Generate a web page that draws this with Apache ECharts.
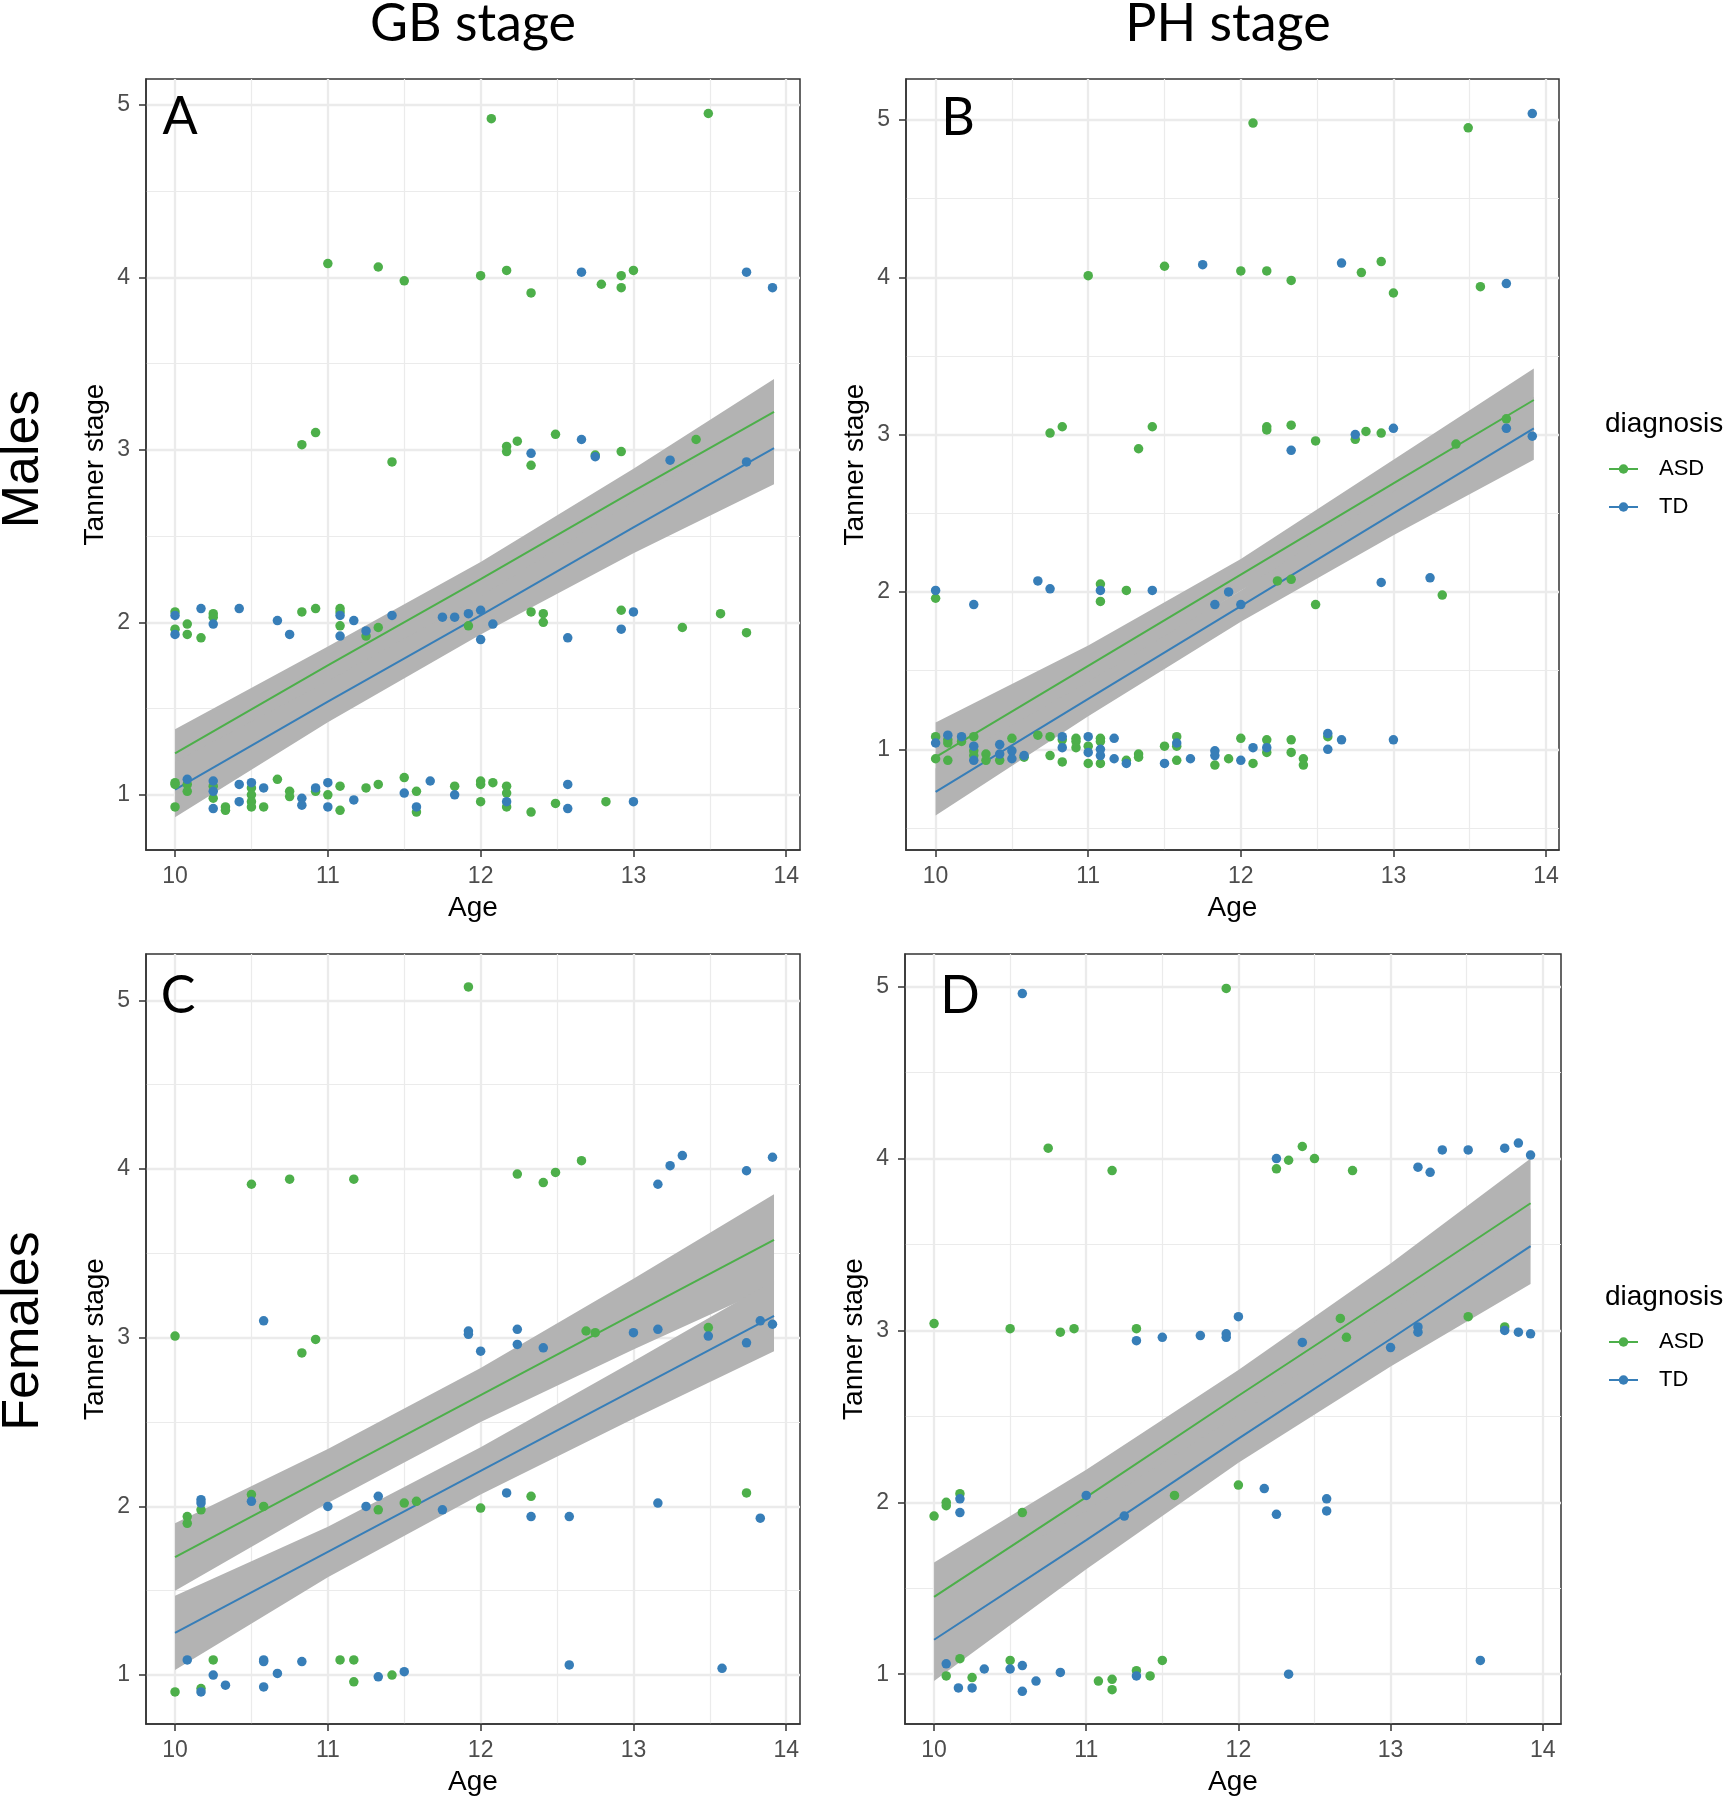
<!DOCTYPE html>
<html><head><meta charset="utf-8">
<script src="https://cdn.jsdelivr.net/npm/echarts@6/dist/echarts.min.js"></script>
<style>html,body{margin:0;padding:0;background:#fff}#chart{width:1733px;height:1800px}</style>
</head><body><div id="chart"></div>
<script>
// ---------- categories / labels ----------
const diagnoses = ['ASD', 'TD'];
const columnTitles = ['GB stage', 'PH stage'];
const rowTitles = ['Males', 'Females'];
const panelLetters = ['A', 'B', 'C', 'D'];
const xTicks = [10, 11, 12, 13, 14];
const xMinor = [10.5, 11.5, 12.5, 13.5];
const yTicks = [1, 2, 3, 4, 5];
const yMinor = [0.5, 1.5, 2.5, 3.5, 4.5];

// ---------- points [age, tanner stage] ----------
const gbMaleASD = [[10.00,2.06],[10.00,1.96],[10.08,1.99],[10.08,1.93],[10.17,1.91],[10.25,2.05],[10.25,2.03],[10.83,2.06],[10.92,2.08],[11.08,2.08],[11.08,2.06],[11.08,1.98],[11.25,1.92],[11.33,1.97],[11.92,1.98],[12.33,2.06],[12.41,2.05],[12.41,2.00],[12.92,2.07],[13.32,1.97],[13.57,2.05],[13.74,1.94],
  [12.07,4.92],[13.49,4.95],
  [11.00,4.08],[11.33,4.06],[11.50,3.98],[12.00,4.01],[12.17,4.04],[12.33,3.91],[12.79,3.96],[12.92,4.01],[12.92,3.94],[13.00,4.04],
  [10.83,3.03],[10.92,3.10],[11.42,2.93],[12.17,3.02],[12.17,2.99],[12.24,3.05],[12.33,2.91],[12.49,3.09],[12.75,2.97],[12.92,2.99],[13.41,3.06],
  [10.00,1.07],[10.00,1.06],[10.00,0.93],[10.08,1.06],[10.08,1.02],[10.25,1.05],[10.25,0.98],[10.33,0.93],[10.33,0.91],[10.50,1.04],[10.50,1.00],[10.50,0.96],[10.50,0.93],[10.58,0.93],[10.67,1.09],[10.75,1.02],[10.75,0.99],[10.92,1.02],[11.00,1.00],[11.08,1.05],[11.08,0.91],[11.25,1.04],[11.33,1.06],[11.50,1.10],[11.58,1.02],[11.58,0.90],[11.83,1.05],[12.00,1.08],[12.00,1.06],[12.00,0.96],[12.08,1.07],[12.17,1.05],[12.17,1.01],[12.17,0.93],[12.33,0.90],[12.49,0.95],[12.82,0.96]];
const gbMaleTD = [[10.00,2.04],[10.00,1.93],[10.17,2.08],[10.25,1.99],[10.42,2.08],[10.67,2.01],[10.75,1.93],[11.08,2.04],[11.08,1.92],[11.17,2.01],[11.25,1.95],[11.42,2.04],[11.75,2.03],[11.83,2.03],[11.92,2.05],[12.00,2.07],[12.00,1.90],[12.08,1.99],[12.57,1.91],[12.92,1.96],[13.00,2.06],
  [12.66,4.03],[13.74,4.03],[13.91,3.94],
  [12.33,2.98],[12.66,3.06],[12.75,2.96],[13.24,2.94],[13.74,2.93],
  [10.08,1.09],[10.25,1.08],[10.25,1.02],[10.25,0.92],[10.42,1.06],[10.42,0.96],[10.50,1.07],[10.58,1.04],[10.83,0.98],[10.83,0.94],[10.92,1.04],[11.00,1.07],[11.00,0.93],[11.17,0.97],[11.50,1.01],[11.58,0.93],[11.67,1.08],[11.83,1.00],[12.17,0.96],[12.57,1.06],[12.57,0.92],[13.00,0.96]];

const phMaleASD = [[12.08,4.98],[13.49,4.95],
  [11.50,4.07],[11.00,4.01],[12.00,4.04],[12.17,4.04],[12.33,3.98],[12.79,4.03],[12.92,4.10],[13.00,3.90],[13.57,3.94],
  [10.75,3.01],[10.83,3.05],[11.42,3.05],[11.33,2.91],[12.17,3.05],[12.17,3.03],[12.33,3.06],[12.49,2.96],[12.75,2.97],[12.82,3.02],[12.92,3.01],[13.41,2.94],[13.74,3.10],
  [10.00,1.96],[11.08,2.05],[11.08,1.94],[11.25,2.01],[12.24,2.07],[12.33,2.08],[12.49,1.92],[13.32,1.98],
  [10.00,1.08],[10.00,0.94],[10.08,1.06],[10.08,1.04],[10.08,0.93],[10.17,1.05],[10.25,1.08],[10.25,0.99],[10.25,0.96],[10.33,0.97],[10.33,0.93],[10.42,0.93],[10.50,1.07],[10.58,0.95],[10.67,1.09],[10.75,1.08],[10.75,0.96],[10.83,1.06],[10.83,0.92],[10.92,1.07],[10.92,1.05],[10.92,1.01],[11.00,1.02],[11.00,0.91],[11.08,1.07],[11.08,1.05],[11.08,0.91],[11.25,0.93],[11.33,0.97],[11.33,0.95],[11.50,1.02],[11.58,1.08],[11.58,1.02],[11.58,0.93],[11.83,0.90],[11.92,0.94],[12.00,1.07],[12.08,0.91],[12.17,1.06],[12.17,0.98],[12.33,1.06],[12.33,0.98],[12.41,0.94],[12.41,0.90],[12.57,1.08]];
const phMaleTD = [[13.91,5.04],
  [11.75,4.08],[12.66,4.09],[13.74,3.96],
  [12.33,2.90],[12.75,3.00],[13.00,3.04],[13.74,3.04],[13.91,2.99],
  [10.00,2.01],[10.25,1.92],[10.67,2.07],[10.75,2.02],[11.08,2.01],[11.42,2.01],[11.83,1.92],[11.92,2.00],[12.00,1.92],[12.92,2.06],[13.24,2.09],
  [10.00,1.04],[10.08,1.09],[10.17,1.08],[10.25,1.02],[10.25,0.93],[10.42,1.03],[10.42,0.97],[10.50,0.99],[10.50,0.94],[10.58,0.96],[10.83,1.08],[10.83,1.01],[11.00,1.08],[11.00,0.98],[11.08,1.00],[11.08,0.96],[11.17,1.07],[11.17,0.94],[11.25,0.91],[11.50,0.91],[11.58,1.04],[11.67,0.94],[11.83,0.99],[11.83,0.96],[12.00,0.93],[12.08,1.01],[12.17,1.01],[12.57,1.10],[12.57,1.00],[12.66,1.06],[13.00,1.06]];

const gbFemaleASD = [[11.92,5.08],
  [10.50,3.91],[10.75,3.94],[11.17,3.94],[12.24,3.97],[12.41,3.92],[12.49,3.98],[12.66,4.05],
  [10.00,3.01],[10.83,2.91],[10.92,2.99],[12.69,3.04],[12.75,3.03],[13.49,3.06],
  [10.17,1.98],[10.08,1.94],[10.08,1.90],[10.50,2.07],[10.58,2.00],[11.33,1.98],[11.50,2.02],[11.58,2.03],[12.00,1.99],[12.33,2.06],[13.74,2.08],
  [10.25,1.09],[10.17,0.92],[10.00,0.90],[11.08,1.09],[11.17,1.09],[11.17,0.96],[11.42,1.00]];
const gbFemaleTD = [[13.16,3.91],[13.24,4.02],[13.32,4.08],[13.74,3.99],[13.91,4.07],
  [10.58,3.10],[11.92,3.04],[11.92,3.02],[12.00,2.92],[12.24,3.05],[12.24,2.96],[12.41,2.94],[13.00,3.03],[13.16,3.05],[13.49,3.01],[13.74,2.97],[13.83,3.10],[13.91,3.08],
  [10.17,2.04],[10.17,2.02],[10.50,2.03],[11.00,2.00],[11.25,2.00],[11.33,2.06],[11.75,1.98],[12.17,2.08],[12.33,1.94],[12.58,1.94],[13.16,2.02],[13.83,1.93],
  [10.08,1.09],[10.25,1.00],[10.17,0.90],[10.33,0.94],[10.58,1.09],[10.58,1.08],[10.58,0.93],[10.67,1.01],[10.83,1.08],[11.33,0.99],[11.50,1.02],[12.58,1.06],[13.58,1.04]];

const phFemaleASD = [[11.92,4.99],
  [10.75,4.06],[11.17,3.93],[12.25,3.94],[12.33,3.99],[12.42,4.07],[12.50,4.00],[12.75,3.93],
  [10.00,3.04],[10.50,3.01],[10.83,2.99],[10.92,3.01],[11.33,3.01],[12.67,3.07],[12.71,2.96],[13.51,3.08],[13.75,3.02],
  [10.00,1.92],[10.08,2.00],[10.08,1.98],[10.17,2.05],[10.58,1.94],[11.58,2.04],[12.00,2.10],
  [10.08,0.99],[10.17,1.09],[10.25,0.98],[10.50,1.08],[11.08,0.96],[11.17,0.97],[11.17,0.91],[11.33,1.02],[11.42,0.99],[11.50,1.08]];
const phFemaleTD = [[10.58,4.96],
  [12.25,4.00],[13.18,3.95],[13.26,3.92],[13.34,4.05],[13.51,4.05],[13.75,4.06],[13.84,4.09],[13.92,4.02],
  [11.33,2.94],[11.50,2.96],[11.75,2.97],[11.92,2.98],[11.92,2.96],[12.00,3.08],[12.42,2.93],[13.00,2.90],[13.18,3.02],[13.18,2.99],[13.75,3.00],[13.84,2.99],[13.92,2.98],
  [10.17,2.02],[10.17,1.94],[11.00,2.04],[11.25,1.92],[12.17,2.08],[12.25,1.93],[12.58,2.02],[12.58,1.95],
  [10.08,1.06],[10.16,0.92],[10.25,0.92],[10.33,1.03],[10.50,1.03],[10.58,1.05],[10.58,0.90],[10.67,0.96],[10.83,1.01],[11.33,0.99],[12.33,1.00],[13.59,1.08]];

// ---------- linear fits with confidence bands ----------
const fitAges = [10, 11, 12, 13, 13.92];
const gbMaleASDFit = [1.24, 1.75, 2.25, 2.76, 3.22];
const gbMaleASDLo  = [1.10, 1.63, 2.13, 2.62, 3.03];
const gbMaleASDHi  = [1.38, 1.86, 2.35, 2.89, 3.41];
const gbMaleTDFit  = [1.03, 1.54, 2.04, 2.55, 3.01];
const gbMaleTDLo   = [0.87, 1.42, 1.93, 2.40, 2.80];
const gbMaleTDHi   = [1.19, 1.66, 2.15, 2.70, 3.22];

const phMaleASDFit = [0.95, 1.53, 2.11, 2.69, 3.22];
const phMaleASDLo  = [0.73, 1.40, 2.01, 2.54, 3.02];
const phMaleASDHi  = [1.17, 1.66, 2.21, 2.84, 3.42];
const phMaleTDFit  = [0.73, 1.32, 1.91, 2.50, 3.04];
const phMaleTDLo   = [0.58, 1.21, 1.81, 2.36, 2.84];
const phMaleTDHi   = [0.88, 1.43, 2.01, 2.64, 3.24];

const gbFemaleASDFit = [1.70, 2.18, 2.66, 3.14, 3.58];
const gbFemaleASDLo  = [1.50, 2.02, 2.50, 2.93, 3.31];
const gbFemaleASDHi  = [1.90, 2.34, 2.82, 3.35, 3.85];
const gbFemaleTDFit  = [1.25, 1.73, 2.21, 2.69, 3.13];
const gbFemaleTDLo   = [1.03, 1.58, 2.07, 2.52, 2.92];
const gbFemaleTDHi   = [1.47, 1.88, 2.35, 2.86, 3.34];

const phFemaleASDFit = [1.45, 2.03, 2.62, 3.20, 3.74];
const phFemaleASDLo  = [1.25, 1.87, 2.47, 3.01, 3.48];
const phFemaleASDHi  = [1.65, 2.19, 2.77, 3.39, 4.00];
const phFemaleTDFit  = [1.20, 1.78, 2.37, 2.95, 3.49];
const phFemaleTDLo   = [0.96, 1.61, 2.23, 2.79, 3.27];
const phFemaleTDHi   = [1.44, 1.95, 2.51, 3.11, 3.71];

// ---------- layout ----------
const FONT = '"Liberation Sans", Arial, Helvetica, sans-serif';
const TITLE_FONT = 'Lato, "Open Sans", sans-serif';
const GREEN = '#4DAF4A', BLUE = '#377EB8', RIBBON = '#b3b3b3';
const GRIDCOL = '#ebebeb';

const panels = [
  {grid:{left:146, top:79, width:654, height:771}, x:[9.81,14.09], y:[0.68,5.15],
   asd:gbMaleASD, td:gbMaleTD, af:gbMaleASDFit, al:gbMaleASDLo, ah:gbMaleASDHi, tf:gbMaleTDFit, tl:gbMaleTDLo, th:gbMaleTDHi, letter:[180,117]},
  {grid:{left:906, top:79, width:653, height:771}, x:[9.806,14.085], y:[0.36,5.26],
   asd:phMaleASD, td:phMaleTD, af:phMaleASDFit, al:phMaleASDLo, ah:phMaleASDHi, tf:phMaleTDFit, tl:phMaleTDLo, th:phMaleTDHi, letter:[958,118]},
  {grid:{left:146, top:954, width:654, height:770}, x:[9.81,14.09], y:[0.71,5.275],
   asd:gbFemaleASD, td:gbFemaleTD, af:gbFemaleASDFit, al:gbFemaleASDLo, ah:gbFemaleASDHi, tf:gbFemaleTDFit, tl:gbFemaleTDLo, th:gbFemaleTDHi, letter:[178,996]},
  {grid:{left:905, top:954, width:656, height:770}, x:[9.809,14.12], y:[0.71,5.19],
   asd:phFemaleASD, td:phFemaleTD, af:phFemaleASDFit, al:phFemaleASDLo, ah:phFemaleASDHi, tf:phFemaleTDFit, tl:phFemaleTDLo, th:phFemaleTDHi, letter:[960,996]}
];

const grids = [], xAxes = [], yAxes = [], series = [];

function ribbon(gi, lo, hi) {
  return {
    type: 'custom', xAxisIndex: gi, yAxisIndex: gi, z: 1, silent: true, clip: true,
    data: [[fitAges[0], lo[0]]],
    renderItem: function (params, api) {
      const pts = [];
      for (let i = 0; i < fitAges.length; i++) pts.push(api.coord([fitAges[i], hi[i]]));
      for (let i = fitAges.length - 1; i >= 0; i--) pts.push(api.coord([fitAges[i], lo[i]]));
      return {type: 'polygon', shape: {points: pts}, style: {fill: RIBBON}};
    }
  };
}
function fitLine(gi, fit, color) {
  return {type: 'line', xAxisIndex: gi, yAxisIndex: gi, z: 2, silent: true, showSymbol: false, symbol: 'none',
    data: fitAges.map((a, i) => [a, fit[i]]), lineStyle: {color: color, width: 2}, itemStyle: {color: color}};
}
function points(gi, pts, color, name) {
  return {type: 'scatter', name: name, xAxisIndex: gi, yAxisIndex: gi, z: 3, silent: true,
    symbol: 'circle', symbolSize: 9.5, data: pts, itemStyle: {color: color, opacity: 1}};
}

panels.forEach((p, gi) => {
  grids.push(Object.assign({show: true, borderColor: '#333', borderWidth: 1.5, backgroundColor: 'transparent', containLabel: false}, p.grid));
  xAxes.push({
    type: 'value', gridIndex: gi, min: p.x[0], max: p.x[1],
    name: 'Age', nameLocation: 'middle', nameGap: 44,
    nameTextStyle: {fontFamily: FONT, fontSize: 28, color: '#000'},
    axisLine: {show: true, lineStyle: {color: '#333', width: 1.5}},
    axisTick: {show: true, length: 7, customValues: xTicks, lineStyle: {color: '#333', width: 1.5}},
    axisLabel: {show: true, customValues: xTicks, fontFamily: FONT, fontSize: 23, color: '#4d4d4d', margin: 15,
      showMinLabel: true, showMaxLabel: true, formatter: v => String(v)},
    splitLine: {show: false}, minorTick: {show: false}, minorSplitLine: {show: false}
  });
  yAxes.push({
    type: 'value', gridIndex: gi, min: p.y[0], max: p.y[1],
    name: 'Tanner stage', nameLocation: 'middle', nameGap: 37,
    nameTextStyle: {fontFamily: FONT, fontSize: 28, color: '#000'},
    axisLine: {show: true, lineStyle: {color: '#333', width: 1.5}},
    axisTick: {show: true, length: 7, customValues: yTicks, lineStyle: {color: '#333', width: 1.5}},
    axisLabel: {show: true, customValues: yTicks, fontFamily: FONT, fontSize: 23, color: '#4d4d4d', margin: 16,
      formatter: v => String(v)},
    splitLine: {show: false}, minorTick: {show: false}, minorSplitLine: {show: false}
  });
  const inX = v => v > p.x[0] && v < p.x[1];
  const inY = v => v > p.y[0] && v < p.y[1];
  const ml = [];
  xMinor.filter(inX).forEach(v => ml.push({xAxis: v, lineStyle: {color: GRIDCOL, width: 1.2, type: 'solid'}}));
  yMinor.filter(inY).forEach(v => ml.push({yAxis: v, lineStyle: {color: GRIDCOL, width: 1.2, type: 'solid'}}));
  xTicks.filter(inX).forEach(v => ml.push({xAxis: v, lineStyle: {color: GRIDCOL, width: 2.3, type: 'solid'}}));
  yTicks.filter(inY).forEach(v => ml.push({yAxis: v, lineStyle: {color: GRIDCOL, width: 2.3, type: 'solid'}}));
  series.push({type: 'line', xAxisIndex: gi, yAxisIndex: gi, z: 0, silent: true, data: [],
    markLine: {silent: true, z: 0, symbol: ['none', 'none'], animation: false, label: {show: false}, emphasis: {disabled: true}, data: ml}});
  series.push(ribbon(gi, p.al, p.ah));
  series.push(ribbon(gi, p.tl, p.th));
  series.push(fitLine(gi, p.af, GREEN));
  series.push(fitLine(gi, p.tf, BLUE));
  series.push(points(gi, p.asd, GREEN, diagnoses[0]));
  series.push(points(gi, p.td, BLUE, diagnoses[1]));
});

// ---------- annotations ----------
const graphic = [];
function txt(x, y, text, size, family, opts) {
  return Object.assign({type: 'text', x: x, y: y, z: 10, silent: true,
    style: {text: text, fontSize: size, fontFamily: family, fill: '#000', align: 'center', verticalAlign: 'middle'}}, opts || {});
}
graphic.push(txt(473, 24, columnTitles[0], 52, TITLE_FONT));
graphic.push(txt(1228, 24, columnTitles[1], 52, TITLE_FONT));
graphic.push(txt(24, 459, rowTitles[0], 52, FONT, {rotation: Math.PI / 2}));
graphic.push(txt(24, 1331, rowTitles[1], 52, FONT, {rotation: Math.PI / 2}));
panels.forEach((p, i) => graphic.push(txt(p.letter[0], p.letter[1], panelLetters[i], 52, TITLE_FONT)));

function legend(yTitle, yA, yT) {
  const out = [];
  out.push({type: 'text', x: 1605, y: yTitle, z: 10, silent: true,
    style: {text: 'diagnosis', fontSize: 28, fontFamily: FONT, fill: '#000', align: 'left', verticalAlign: 'middle'}});
  [[yA, GREEN, diagnoses[0]], [yT, BLUE, diagnoses[1]]].forEach(([yy, c, label]) => {
    out.push({type: 'line', z: 10, silent: true, shape: {x1: 1609, y1: yy, x2: 1638, y2: yy}, style: {stroke: c, lineWidth: 2}});
    out.push({type: 'circle', z: 11, silent: true, shape: {cx: 1623.5, cy: yy, r: 4.75}, style: {fill: c}});
    out.push({type: 'text', x: 1659, y: yy, z: 10, silent: true,
      style: {text: label, fontSize: 22, fontFamily: FONT, fill: '#000', align: 'left', verticalAlign: 'middle'}});
  });
  return out;
}
graphic.push(...legend(424, 469, 507));
graphic.push(...legend(1297, 1342, 1380));

const chart = echarts.init(document.getElementById('chart'), null, {renderer: 'canvas'});
chart.setOption({
  animation: false,
  backgroundColor: '#ffffff',
  grid: grids, xAxis: xAxes, yAxis: yAxes, series: series, graphic: graphic
});
</script></body></html>
